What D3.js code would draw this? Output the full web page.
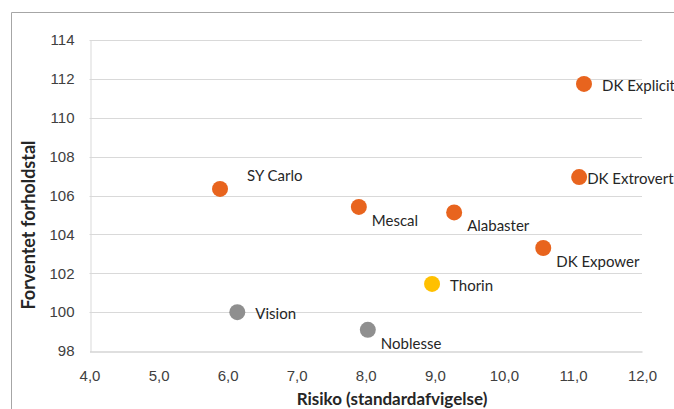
<!DOCTYPE html>
<html>
<head>
<meta charset="utf-8">
<script src="https://cdn.jsdelivr.net/npm/d3@7"></script>
<style>
  html, body { margin: 0; padding: 0; background: #fff; }
  svg { display: block; font-family: Lato, "Open Sans", "Liberation Sans", sans-serif; }
</style>
</head>
<body>
<svg id="chart" width="674" height="409"></svg>
<script>
// ---- data ----
const names = ["DK Explicit", "DK Extrovert", "SY Carlo", "Mescal", "Alabaster", "DK Expower", "Thorin", "Vision", "Noblesse"];
const risk = [11.16, 11.09, 5.89, 7.90, 9.28, 10.57, 8.96, 6.14, 8.03];
const expected = [111.74, 106.95, 106.34, 105.41, 105.13, 103.30, 101.45, 100.0, 99.09];
const groups = ["orange", "orange", "orange", "orange", "orange", "orange", "yellow", "gray", "gray"];
const labelPlacement = ["right", "rightTight", "aboveRight", "belowRight", "belowRight", "belowRight", "right", "right", "belowRight"];
const xTicks = [4, 5, 6, 7, 8, 9, 10, 11, 12];
const yTicks = [98, 100, 102, 104, 106, 108, 110, 112, 114];
const xTitle = "Risiko (standardafvigelse)";
const yTitle = "Forventet forholdstal";

// ---- styles ----
const colors = { orange: "#E8641E", yellow: "#FFC000", gray: "#8F8F8F" };
const placements = {
  right: { dx: 18, dy: 1 },
  rightTight: { dx: 8, dy: 1 },
  aboveRight: { dx: 27, dy: -14 },
  belowRight: { dx: 13, dy: 13 }
};

const svg = d3.select("#chart");
const W = 674, H = 409;
const m = { left: 89.5, right: 642, top: 40, bottom: 351 };

// outer border (top and left visible)
svg.append("path")
  .attr("d", `M11.5,${H} V12.5 H${W}`)
  .attr("fill", "none").attr("stroke", "#A6A6A6").attr("stroke-width", 1);

const x = d3.scaleLinear().domain([4, 12]).range([m.left, m.right]);
const y = d3.scaleLinear().domain([98, 114]).range([m.bottom, m.top]);

// gridlines
svg.append("g")
  .selectAll("line").data(yTicks.filter(t => t !== 98)).join("line")
  .attr("x1", m.left).attr("x2", m.right)
  .attr("y1", d => Math.round(y(d)) + 0.5).attr("y2", d => Math.round(y(d)) + 0.5)
  .attr("stroke", "#D9D9D9").attr("stroke-width", 1);

// y axis
const yAxis = svg.append("g")
  .attr("transform", `translate(${Math.round(m.left) + 0.5},0)`)
  .call(d3.axisLeft(y).tickValues(yTicks).tickSize(0).tickPadding(16).tickFormat(d3.format("d")));
yAxis.select(".domain").attr("stroke", "#D9D9D9");
yAxis.selectAll("text").attr("fill", "#404040").attr("font-size", 15);

// x axis
const xAxis = svg.append("g")
  .attr("transform", `translate(0,${Math.round(m.bottom) + 0.5})`)
  .call(d3.axisBottom(x).tickValues(xTicks).tickSize(0).tickPadding(19)
    .tickFormat(d => d3.format(".1f")(d).replace(".", ",")));
xAxis.select(".domain").attr("stroke", "#BFBFBF");
xAxis.selectAll("text").attr("fill", "#404040").attr("font-size", 15);

// axis titles
svg.append("text")
  .attr("x", 392).attr("y", 398)
  .attr("dominant-baseline", "central")
  .attr("text-anchor", "middle").attr("font-weight", "bold").attr("font-size", 17)
  .attr("fill", "#262626").text(xTitle);
svg.append("text")
  .attr("transform", `translate(28,225) rotate(-90)`)
  .attr("dominant-baseline", "central")
  .attr("text-anchor", "middle").attr("font-weight", "bold").attr("font-size", 18)
  .attr("fill", "#262626").text(yTitle);

// points
const data = names.map((n, i) => ({ name: n, x: risk[i], y: expected[i], g: groups[i], p: labelPlacement[i] }));
svg.append("g").selectAll("circle").data(data).join("circle")
  .attr("cx", d => x(d.x)).attr("cy", d => y(d.y)).attr("r", 8)
  .attr("fill", d => colors[d.g]);

// labels
svg.append("g").selectAll("text").data(data).join("text")
  .attr("x", d => x(d.x) + placements[d.p].dx)
  .attr("y", d => y(d.y) + placements[d.p].dy)
  .attr("dominant-baseline", "central")
  .attr("font-size", 15).attr("fill", "#262626")
  .text(d => d.name);
</script>
</body>
</html>
